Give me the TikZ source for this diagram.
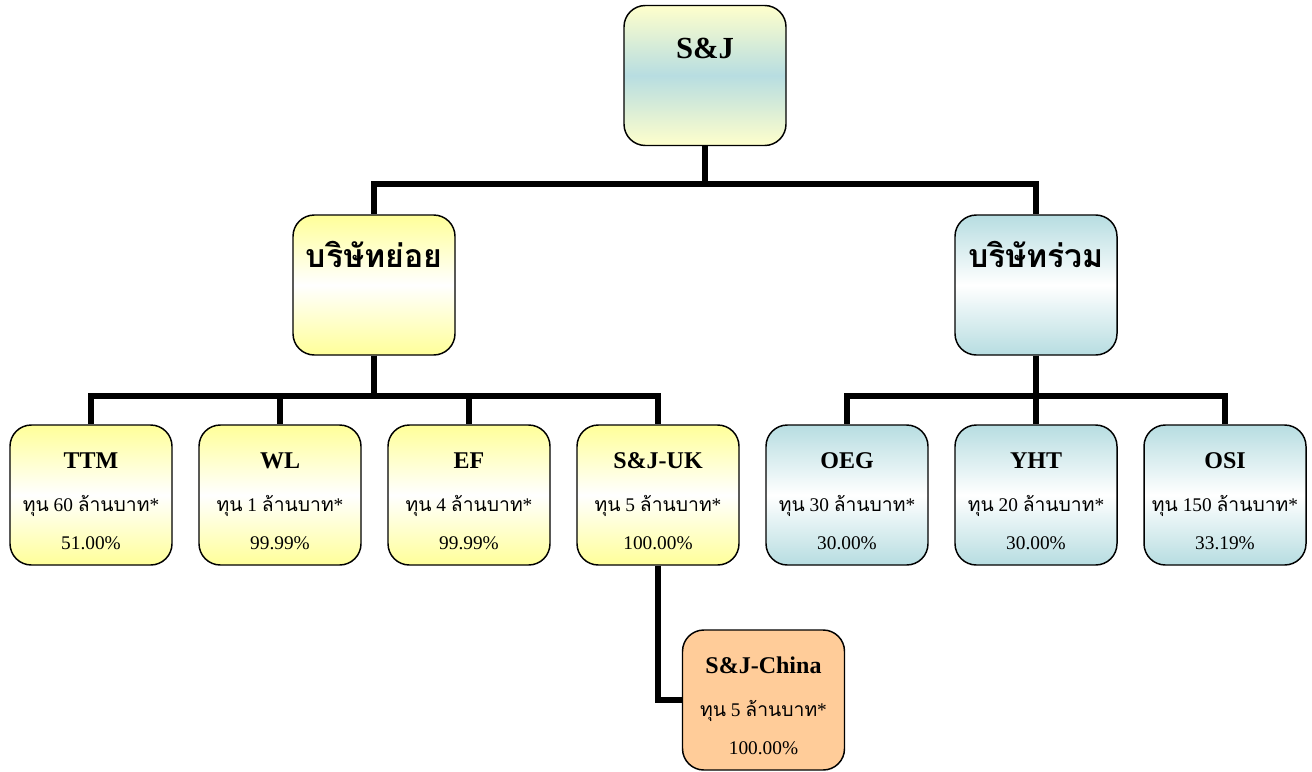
\documentclass[tikz,border=0pt]{standalone}
\usepackage{fontspec}
\setmainfont{Liberation Serif}
\newfontfamily\thaifont[Script=Thai]{Loma}
\usetikzlibrary{backgrounds}
\definecolor{subyellow}{RGB}{255,255,153}
\definecolor{jointblue}{RGB}{183,221,225}
\definecolor{paleyellow}{RGB}{255,255,204}
\definecolor{peach}{RGB}{255,204,153}
\newcommand\thai[1]{{\thaifont #1}}
\tikzset{
	unit/.style={draw, rounded corners=16pt, line width=1.1pt, minimum width=121.5pt, minimum height=105pt, inner sep=0pt},
	subunit/.style={unit, top color=subyellow, bottom color=subyellow, middle color=white},
	jointunit/.style={unit, top color=jointblue, bottom color=jointblue, middle color=white},
	rootunit/.style={unit, top color=paleyellow, bottom color=paleyellow, middle color=jointblue},
	chinaunit/.style={unit, fill=peach},
	link/.style={line width=4.5pt},
	title/.style={anchor=base, inner sep=0pt, font=\bfseries\fontsize{18}{20}\selectfont},
	detail/.style={anchor=base, inner sep=0pt, font=\fontsize{14.5}{16}\selectfont},
	group/.style={anchor=base, inner sep=0pt, font=\thaifont\bfseries\fontsize{24}{26}\selectfont}
}
\begin{document}
\begin{tikzpicture}[x=0.75pt,y=-0.75pt]
	\useasboundingbox (0,0) rectangle (1312,771);

	\node[rootunit] (sj) at (705,75.5) {};
	\node[title, font=\bfseries\fontsize{23}{25}\selectfont] at ([yshift=-40.5pt]sj.north) {S\&J};

	\node[subunit] (sub) at (374,285) {};
	\node[group] at ([yshift=-39.75pt]sub.north) {บริษัทย่อย};
	\node[jointunit] (joint) at (1036,285) {};
	\node[group] at ([yshift=-39.75pt]joint.north) {บริษัทร่วม};

	\foreach \x/\n/\t/\c/\p/\s in {91/ttm/TTM/60/51.00/subunit, 280/wl/WL/1/99.99/subunit, 469/ef/EF/4/99.99/subunit, 658/sjuk/S\&J-UK/5/100.00/subunit,
		847/oeg/OEG/30/30.00/jointunit, 1036/yht/YHT/20/30.00/jointunit, 1225/osi/OSI/150/33.19/jointunit}{
		\node[\s] (\n) at (\x,495) {};
		\node[title] at ([yshift=-33pt]\n.north) {\t};
		\node[detail] at ([yshift=-65.25pt]\n.north) {\thai{ทุน} \c\ \thai{ล้านบาท}*};
		\node[detail] at ([yshift=-93.75pt]\n.north) {\p\%};
	}

	\node[chinaunit] (china) at (763.5,700) {};
	\node[title] at ([yshift=-33pt]china.north) {S\&J-China};
	\node[detail] at ([yshift=-65.25pt]china.north) {\thai{ทุน} 5 \thai{ล้านบาท}*};
	\node[detail] at ([yshift=-93.75pt]china.north) {100.00\%};

	\begin{scope}[on background layer]
		\draw[link] (sj.south) -- ++(0,38) -| (sub.north);
		\draw[link] (sj.south) -- ++(0,38) -| (joint.north);
		\foreach \n in {ttm,wl,ef,sjuk}
			\draw[link] (sub.south) -- ++(0,40) -| (\n.north);
		\foreach \n in {oeg,yht,osi}
			\draw[link] (joint.south) -- ++(0,40) -| (\n.north);
		\draw[link] (sjuk.south) |- (china.west);
	\end{scope}
\end{tikzpicture}
\end{document}
